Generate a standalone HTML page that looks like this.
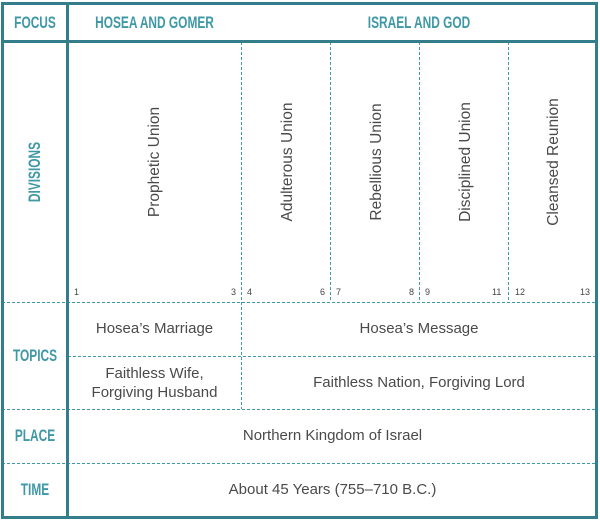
<!DOCTYPE html>
<html><head><style>
body{margin:0;background:#fff;}
#c{position:relative;width:600px;height:520px;overflow:hidden;font-family:"Liberation Sans",sans-serif;}
.t{position:absolute;color:#4a4a4a;font-size:15px;text-align:center;white-space:nowrap;}
.h{position:absolute;color:#3f98a6;font-family:"Liberation Sans",sans-serif;font-weight:bold;font-size:17px;text-align:center;white-space:nowrap;transform:scaleX(0.7);}
.r{position:absolute;color:#4a4a4a;font-size:15.5px;white-space:nowrap;transform:translate(-50%,-50%) rotate(-90deg);}
.n{position:absolute;color:#444;font-size:9px;top:287px;}
</style></head><body><div id="c">
<svg width="600" height="520" style="position:absolute;left:0;top:0">
<g stroke="#3f98a6" stroke-width="1" stroke-dasharray="3,2" fill="none">
<line x1="241.5" y1="42" x2="241.5" y2="409"/>
<line x1="330.5" y1="42" x2="330.5" y2="302"/>
<line x1="419.5" y1="42" x2="419.5" y2="302"/>
<line x1="508.5" y1="42" x2="508.5" y2="302"/>
<line x1="2" y1="302.5" x2="597" y2="302.5"/>
<line x1="68" y1="356.5" x2="597" y2="356.5"/>
<line x1="2" y1="409.5" x2="597" y2="409.5"/>
<line x1="2" y1="463.5" x2="597" y2="463.5"/>
</g>
<g stroke="#347e8b" stroke-width="3" fill="none">
<rect x="2.5" y="3.5" width="594" height="514"/>
<line x1="2" y1="41.5" x2="597" y2="41.5"/>
<line x1="67.5" y1="3" x2="67.5" y2="518"/>
</g>
</svg>
<div class="h" style="left:3px;width:64px;top:13px">FOCUS</div>
<div class="h" style="left:68px;width:173px;top:13px">HOSEA AND GOMER</div>
<div class="h" style="left:241px;width:356px;top:13px">ISRAEL AND GOD</div>
<div class="h" style="left:35px;top:172px;transform:translate(-50%,-50%) rotate(-90deg) scaleX(0.7)">DIVISIONS</div>
<div class="h" style="left:3px;width:64px;top:346px">TOPICS</div>
<div class="h" style="left:3px;width:64px;top:426px">PLACE</div>
<div class="h" style="left:3px;width:64px;top:480px">TIME</div>
<div class="r" style="left:155px;top:162px">Prophetic Union</div>
<div class="r" style="left:288px;top:162px">Adulterous Union</div>
<div class="r" style="left:377px;top:162px">Rebellious Union</div>
<div class="r" style="left:466px;top:162px">Disciplined Union</div>
<div class="r" style="left:554px;top:162px">Cleansed Reunion</div>
<div class="n" style="left:74px">1</div><div class="n" style="left:231px">3</div>
<div class="n" style="left:247px">4</div><div class="n" style="left:320px">6</div>
<div class="n" style="left:336px">7</div><div class="n" style="left:409px">8</div>
<div class="n" style="left:425px">9</div><div class="n" style="left:492px">11</div>
<div class="n" style="left:515px">12</div><div class="n" style="left:580px">13</div>
<div class="t" style="left:68px;width:173px;top:320px">Hosea’s Marriage</div>
<div class="t" style="left:241px;width:356px;top:320px">Hosea’s Message</div>
<div class="t" style="left:68px;width:173px;top:364px;line-height:19px">Faithless Wife,<br>Forgiving Husband</div>
<div class="t" style="left:241px;width:356px;top:374px">Faithless Nation, Forgiving Lord</div>
<div class="t" style="left:68px;width:529px;top:427px">Northern Kingdom of Israel</div>
<div class="t" style="left:68px;width:529px;top:481px">About 45 Years (755–710 B.C.)</div>
</div></body></html>
